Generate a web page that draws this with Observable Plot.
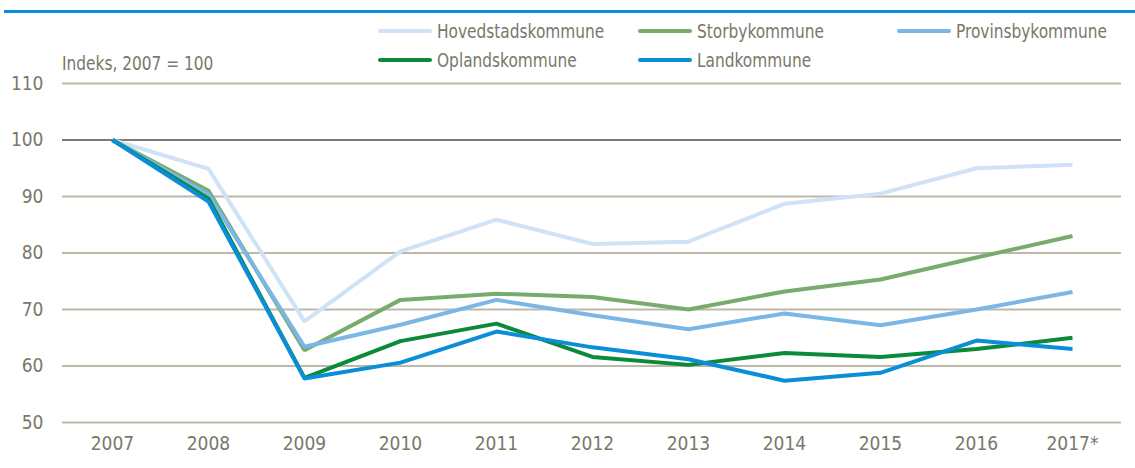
<!DOCTYPE html>
<html>
<head>
<meta charset="utf-8">
<script src="https://cdn.jsdelivr.net/npm/d3@7"></script>
<script src="https://cdn.jsdelivr.net/npm/@observablehq/plot@0.6"></script>
<style>
  html, body { margin: 0; padding: 0; background: #fff; }
  body { width: 1135px; height: 468px; position: relative; overflow: hidden;
         font-family: "Liberation Sans Narrow", "Arial Narrow", "DejaVu Sans Condensed", sans-serif; color: #7a7869; }
  #rule { position: absolute; left: 4px; right: 0; top: 10px; height: 3px; background: #0a8ed8; }
  #legend { position: absolute; left: 0; top: 0; width: 1135px; height: 72px; }
  .item { position: absolute; display: flex; align-items: center; font-size: 19px; white-space: nowrap; height: 24px; }
  .swatch { width: 54px; height: 4px; border-radius: 2px; margin-right: 5px; flex: none; }
  .lbl { display: inline-block; transform: scaleX(0.9); transform-origin: left center; }
  #unit { position: absolute; left: 62px; top: 51px; font-size: 19px; line-height: 24px; white-space: nowrap; }
  #chart { position: absolute; left: 0; top: 72px; }
</style>
</head>
<body>
<div id="rule"></div>
<div id="legend"></div>
<div id="unit"><span class="lbl">Indeks, 2007 = 100</span></div>
<div id="chart"></div>
<script>
const years = ["2007","2008","2009","2010","2011","2012","2013","2014","2015","2016","2017*"];
const seriesNames = ["Hovedstadskommune","Storbykommune","Provinsbykommune","Oplandskommune","Landkommune"];
const hovedstad = [100, 94.9, 67.9, 80.3, 85.9, 81.6, 82.0, 88.7, 90.5, 95.0, 95.6];
const storby    = [100, 91.0, 62.8, 71.7, 72.8, 72.2, 70.0, 73.2, 75.3, 79.2, 83.0];
const provinsby = [100, 90.4, 63.4, 67.3, 71.7, 69.0, 66.5, 69.3, 67.2, 70.0, 73.1];
const oplands   = [100, 89.6, 57.9, 64.4, 67.5, 61.6, 60.2, 62.3, 61.6, 63.0, 65.0];
const land      = [100, 89.1, 57.8, 60.6, 66.1, 63.3, 61.2, 57.4, 58.8, 64.5, 63.0];
const colors = ["#cfe2f6", "#78ab6c", "#7ab6e6", "#0a8a3a", "#0a8ed8"];
const yTicks = [50, 60, 70, 80, 90, 100, 110];

const allSeries = [hovedstad, storby, provinsby, oplands, land];
const data = [];
allSeries.forEach((vals, s) => vals.forEach((v, i) => data.push({serie: seriesNames[s], year: years[i], value: v})));

// legend
const legendPos = [
  {x: 378, y: 31}, {x: 638, y: 31}, {x: 897, y: 31},
  {x: 378, y: 60}, {x: 638, y: 60}
];
const legend = document.getElementById("legend");
seriesNames.forEach((n, i) => {
  const d = document.createElement("div");
  d.className = "item";
  d.style.left = legendPos[i].x + "px";
  d.style.top = (legendPos[i].y - 12) + "px";
  d.innerHTML = `<span class="swatch" style="background:${colors[i]}"></span><span class="lbl">${n}</span>`;
  legend.appendChild(d);
});

const chart = Plot.plot({
  width: 1135,
  height: 396,
  marginTop: 11,
  marginBottom: 46,
  marginLeft: 62,
  marginRight: 14,
  style: {fontFamily: '"Liberation Sans Narrow", "Arial Narrow", "DejaVu Sans Condensed", sans-serif', fontSize: "19px", color: "#7a7869", background: "transparent"},
  x: {type: "point", domain: years, padding: 0, insetLeft: 46, insetRight: 45, label: null, tickSize: 0, tickPadding: 14},
  y: {domain: [50, 110], ticks: yTicks, label: null, tickSize: 0, tickPadding: 19},
  color: {domain: seriesNames, range: colors},
  marks: [
    Plot.ruleY(yTicks.filter(t => t !== 100), {stroke: "#bdb8aa", strokeWidth: 2}),
    Plot.ruleY([100], {stroke: "#7f7b6e", strokeWidth: 2}),
    Plot.axisY({ticks: yTicks, tickSize: 0, tickPadding: 19, fill: "#7a7869", label: null}),
    Plot.axisX({tickSize: 0, tickPadding: 14, fill: "#7a7869", label: null}),
    Plot.line(data, {x: "year", y: "value", z: "serie", stroke: "serie", strokeWidth: 4, strokeLinejoin: "miter", strokeLinecap: "butt"})
  ]
});
document.getElementById("chart").appendChild(chart);
</script>
</body>
</html>
